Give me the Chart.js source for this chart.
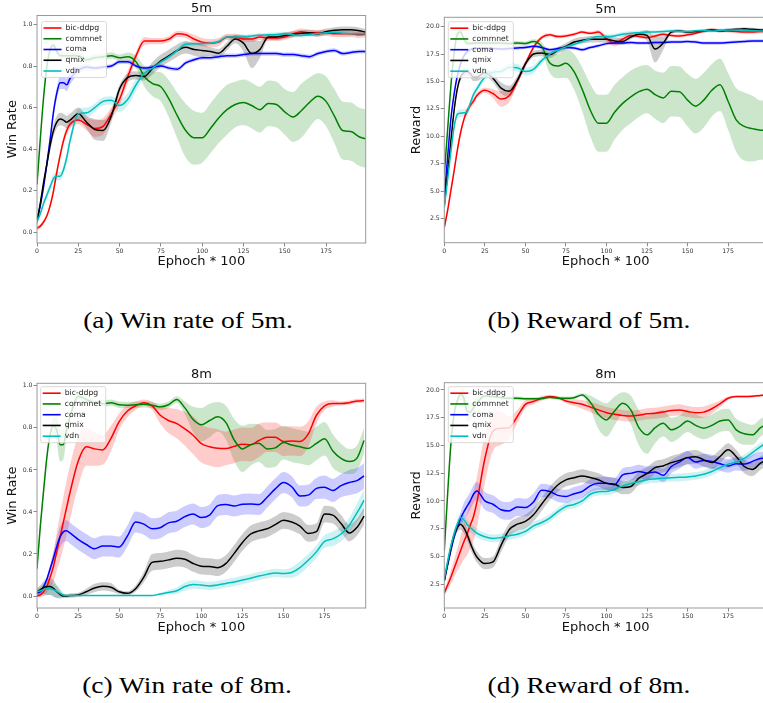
<!DOCTYPE html>
<html><head><meta charset="utf-8">
<script src="https://cdn.jsdelivr.net/npm/chart.js@4.4.1/dist/chart.umd.min.js"></script>
<style>
html,body{margin:0;padding:0;width:763px;height:703px;overflow:hidden;background:#fff;}
.panel{position:absolute;}
.cap{position:absolute;font-family:"Liberation Serif","DejaVu Serif",serif;font-size:22.5px;color:#000;white-space:nowrap;transform:translate(-50%,-50%) scaleX(1.22);}
</style></head><body>
<div class="panel" style="left:0;top:0;"><canvas id="cA" width="380" height="275"></canvas></div>
<div class="panel" style="left:385px;top:0;"><canvas id="cB" width="385" height="275"></canvas></div>
<div class="panel" style="left:0;top:360px;"><canvas id="cC" width="380" height="280"></canvas></div>
<div class="panel" style="left:385px;top:360px;"><canvas id="cD" width="385" height="280"></canvas></div>
<div class="cap" style="left:188px;top:321px;">(a) Win rate of 5m.</div>
<div class="cap" style="left:589px;top:321px;">(b) Reward of 5m.</div>
<div class="cap" style="left:187px;top:686px;">(c) Win rate of 8m.</div>
<div class="cap" style="left:589px;top:686px;">(d) Reward of 8m.</div>
<script>
// ---------- shared categories / ticks ----------
const epochs = [0,2,4,6,8,10,12,14,16,18,20, 25,30,35,40,45,50,55,60,65,70, 75,80,85,90,95,100,105,110,115,120, 125,130,135,140,145,150,155,160,165,170, 175,180,185,190,195,199];
const xTicks = [0,25,50,75,100,125,150,175];
const winTicks = [0.0,0.2,0.4,0.6,0.8,1.0];
const rewardTicks = [2.5,5.0,7.5,10.0,12.5,15.0,17.5,20.0];
const methods = ['bic-ddpg','commnet','coma','qmix','vdn'];
const lineColors = ['#ff0000','#008000','#0000ff','#000000','#00bfbf'];
const bandColors = ['rgba(255,0,0,0.2)','rgba(0,128,0,0.2)','rgba(0,0,255,0.2)','rgba(0,0,0,0.2)','rgba(0,191,191,0.2)'];

// ---------- (a) win rate 5m ----------
const win5m_bic = [0.02,0.03,0.05,0.08,0.13,0.2,0.29,0.37,0.44,0.49,0.52, 0.54,0.52,0.5,0.51,0.57,0.64,0.75,0.85,0.92,0.92, 0.92,0.93,0.955,0.95,0.93,0.915,0.91,0.915,0.94,0.94, 0.93,0.93,0.94,0.935,0.935,0.94,0.955,0.965,0.96,0.96, 0.96,0.955,0.955,0.955,0.95,0.952];
const win5m_bic_sd = [0.01,0.01,0.01,0.01,0.015,0.02,0.02,0.02,0.02,0.02,0.02, 0.02,0.03,0.04,0.04,0.03,0.03,0.03,0.02,0.02,0.015, 0.015,0.015,0.015,0.015,0.02,0.02,0.02,0.02,0.015,0.015, 0.015,0.015,0.015,0.015,0.015,0.015,0.015,0.015,0.015,0.015, 0.015,0.015,0.015,0.015,0.015,0.015];
const win5m_comm = [0.23,0.45,0.65,0.8,0.88,0.9,0.87,0.85,0.85,0.85,0.85, 0.85,0.83,0.84,0.845,0.85,0.84,0.845,0.82,0.75,0.715, 0.7,0.64,0.56,0.49,0.455,0.455,0.5,0.55,0.59,0.615, 0.625,0.61,0.59,0.62,0.615,0.58,0.555,0.585,0.625,0.655, 0.63,0.56,0.49,0.485,0.46,0.45];
const win5m_comm_sd = [0.015,0.015,0.015,0.015,0.015,0.015,0.015,0.015,0.015,0.015,0.015, 0.015,0.015,0.015,0.015,0.015,0.015,0.02,0.03,0.05,0.06, 0.07,0.09,0.11,0.13,0.13,0.12,0.12,0.12,0.12,0.11, 0.11,0.11,0.11,0.11,0.11,0.11,0.12,0.13,0.12,0.11, 0.12,0.13,0.14,0.14,0.14,0.14];
const win5m_coma = [0.06,0.13,0.22,0.33,0.45,0.58,0.67,0.72,0.72,0.71,0.74, 0.78,0.795,0.79,0.795,0.8,0.82,0.82,0.8,0.79,0.795, 0.8,0.79,0.785,0.815,0.83,0.84,0.84,0.845,0.85,0.85, 0.855,0.86,0.86,0.86,0.86,0.855,0.855,0.85,0.845,0.86, 0.87,0.875,0.86,0.865,0.87,0.87];
const win5m_coma_sd = [0.02,0.02,0.02,0.03,0.03,0.03,0.03,0.03,0.03,0.03,0.03, 0.02,0.015,0.01,0.01,0.01,0.01,0.01,0.01,0.01,0.01, 0.01,0.01,0.01,0.01,0.01,0.01,0.01,0.01,0.01,0.01, 0.01,0.01,0.01,0.01,0.01,0.01,0.01,0.01,0.01,0.01, 0.01,0.01,0.01,0.01,0.01,0.01];
const win5m_qmix = [0.05,0.14,0.24,0.33,0.42,0.49,0.53,0.545,0.54,0.53,0.54, 0.57,0.53,0.495,0.49,0.56,0.69,0.745,0.755,0.75,0.79, 0.825,0.85,0.875,0.89,0.88,0.875,0.87,0.862,0.895,0.93, 0.91,0.86,0.88,0.94,0.94,0.947,0.952,0.958,0.96,0.955, 0.965,0.972,0.975,0.975,0.97,0.963];
const win5m_qmix_sd = [0.02,0.02,0.02,0.02,0.03,0.03,0.03,0.03,0.03,0.03,0.03, 0.03,0.03,0.05,0.05,0.03,0.02,0.02,0.02,0.02,0.03, 0.03,0.03,0.03,0.03,0.03,0.03,0.02,0.02,0.02,0.02, 0.04,0.07,0.04,0.015,0.015,0.015,0.015,0.015,0.015,0.015, 0.015,0.015,0.015,0.015,0.015,0.015];
const win5m_vdn = [0.05,0.09,0.14,0.18,0.22,0.26,0.27,0.27,0.3,0.36,0.44, 0.57,0.575,0.6,0.63,0.635,0.61,0.64,0.71,0.765,0.79, 0.82,0.845,0.875,0.905,0.907,0.908,0.91,0.918,0.94,0.94, 0.94,0.945,0.948,0.95,0.952,0.955,0.95,0.947,0.952,0.957, 0.96,0.963,0.958,0.955,0.955,0.955];
const win5m_vdn_sd = [0.01,0.01,0.015,0.02,0.02,0.02,0.02,0.02,0.02,0.025,0.025, 0.025,0.025,0.02,0.02,0.02,0.03,0.03,0.03,0.02,0.015, 0.01,0.01,0.01,0.01,0.01,0.01,0.01,0.01,0.01,0.01, 0.01,0.01,0.01,0.01,0.01,0.01,0.01,0.01,0.01,0.01, 0.01,0.01,0.01,0.01,0.01,0.01];

// ---------- (b) reward 5m ----------
const rew5m_bic = [1.7,3.2,5.0,6.8,8.7,10.3,11.5,12.3,12.8,13.2,13.7, 14.2,13.9,13.4,13.7,15.0,16.6,18.1,19.0,19.25,19.1, 19.15,19.3,19.5,19.4,19.5,18.9,18.5,18.85,19.2,19.1, 19.0,19.15,19.3,19.2,19.15,19.25,19.4,19.6,19.7,19.65, 19.6,19.55,19.5,19.5,19.55,19.55];
const rew5m_bic_sd = [0.3,0.3,0.3,0.3,0.3,0.3,0.3,0.3,0.3,0.3,0.25, 0.25,0.4,0.7,0.6,0.3,0.25,0.2,0.2,0.15,0.15, 0.15,0.15,0.15,0.15,0.2,0.3,0.3,0.3,0.2,0.15, 0.15,0.15,0.15,0.15,0.15,0.15,0.15,0.15,0.15,0.15, 0.15,0.15,0.15,0.15,0.15,0.15];
const rew5m_comm = [6.5,10.5,14.5,17.5,19.3,19.5,18.9,18.5,18.45,18.5,18.5, 18.5,18.5,18.5,18.45,18.5,18.45,18.65,18.2,16.7,16.4, 16.65,15.9,14.3,12.4,11.2,11.2,12.2,13.0,13.6,14.07, 14.3,13.8,13.5,14.1,14.07,13.3,12.75,13.3,14.2,14.7, 13.2,11.5,10.9,10.7,10.56,10.55];
const rew5m_comm_sd = [0.3,0.3,0.3,0.3,0.3,0.3,0.3,0.25,0.2,0.2,0.2, 0.2,0.2,0.2,0.2,0.2,0.2,0.2,0.4,0.9,1.1, 1.3,1.6,2.0,2.4,2.6,2.6,2.5,2.4,2.4,2.3, 2.2,2.2,2.3,2.3,2.3,2.4,2.5,2.5,2.4,2.4, 2.6,2.9,3.1,3.0,2.7,2.7];
const rew5m_coma = [4.5,8.0,11.5,13.8,15.5,16.6,17.3,17.7,17.9,18.0,18.0, 18.0,18.0,17.95,18.0,18.05,18.1,18.2,18.1,17.9,18.0, 18.1,18.05,17.9,18.1,18.25,18.45,18.5,18.5,18.55,18.5, 18.5,18.55,18.55,18.6,18.6,18.65,18.6,18.5,18.5,18.5, 18.55,18.6,18.65,18.7,18.7,18.7];
const rew5m_coma_sd = [0.3,0.3,0.3,0.3,0.3,0.25,0.2,0.2,0.15,0.15,0.15, 0.15,0.15,0.15,0.15,0.15,0.15,0.15,0.15,0.15,0.15, 0.15,0.15,0.15,0.15,0.15,0.15,0.15,0.15,0.15,0.15, 0.15,0.15,0.15,0.15,0.15,0.15,0.15,0.15,0.15,0.15, 0.15,0.15,0.15,0.15,0.15,0.15];
const rew5m_qmix = [3.7,6.6,9.5,12.3,14.3,15.4,15.8,15.9,15.7,15.4,15.4, 15.8,15.3,14.4,14.1,15.1,16.6,17.5,17.6,17.45,17.85, 18.2,18.6,18.75,18.85,18.85,18.85,18.7,18.65,19.05,19.3, 19.2,17.95,18.5,19.5,19.6,19.5,19.55,19.6,19.7,19.6, 19.7,19.75,19.8,19.75,19.7,19.7];
const rew5m_qmix_sd = [0.3,0.3,0.3,0.3,0.3,0.35,0.35,0.35,0.35,0.35,0.35, 0.35,0.35,0.5,0.5,0.4,0.3,0.3,0.3,0.3,0.3, 0.3,0.3,0.3,0.3,0.3,0.3,0.3,0.3,0.2,0.2, 0.5,1.2,0.6,0.15,0.15,0.15,0.15,0.15,0.15,0.15, 0.15,0.15,0.15,0.15,0.15,0.15];
const rew5m_vdn = [3.5,6.0,8.5,10.8,12.0,12.1,12.15,12.2,13.0,13.8,14.3, 15.4,15.85,15.9,16.3,16.25,15.9,16.1,16.9,17.5,17.85, 18.15,18.4,18.65,18.9,19.1,19.1,19.15,19.3,19.4,19.45, 19.5,19.52,19.55,19.6,19.57,19.55,19.62,19.63,19.6,19.65, 19.7,19.7,19.67,19.64,19.6,19.6];
const rew5m_vdn_sd = [0.2,0.2,0.25,0.3,0.35,0.35,0.35,0.35,0.3,0.3,0.3, 0.3,0.3,0.3,0.35,0.35,0.35,0.35,0.3,0.25,0.2, 0.2,0.2,0.2,0.2,0.2,0.2,0.2,0.2,0.2,0.2, 0.15,0.15,0.15,0.15,0.15,0.15,0.15,0.15,0.15,0.15, 0.15,0.15,0.15,0.15,0.15,0.15];

// ---------- (c) win rate 8m ----------
const win8m_bic = [0.0,0.005,0.02,0.045,0.09,0.14,0.21,0.28,0.35,0.42,0.49, 0.64,0.71,0.70,0.695,0.75,0.83,0.88,0.905,0.92,0.905, 0.86,0.835,0.82,0.795,0.765,0.725,0.71,0.703,0.702,0.712, 0.722,0.72,0.74,0.755,0.755,0.735,0.738,0.735,0.77,0.86, 0.905,0.916,0.916,0.92,0.928,0.93];
const win8m_bic_sd = [0.005,0.01,0.02,0.03,0.05,0.07,0.09,0.11,0.12,0.13,0.13, 0.12,0.09,0.08,0.07,0.06,0.04,0.03,0.02,0.015,0.02, 0.04,0.06,0.07,0.08,0.09,0.09,0.09,0.09,0.08,0.08, 0.08,0.08,0.08,0.07,0.07,0.07,0.07,0.07,0.06,0.04, 0.02,0.015,0.01,0.01,0.01,0.01];
const win8m_comm = [0.13,0.33,0.5,0.66,0.77,0.81,0.79,0.72,0.72,0.79,0.85, 0.95,0.935,0.92,0.915,0.92,0.91,0.908,0.91,0.912,0.908, 0.9,0.91,0.935,0.895,0.84,0.815,0.835,0.853,0.825,0.742, 0.7,0.72,0.727,0.7,0.705,0.73,0.718,0.71,0.702,0.726, 0.748,0.69,0.655,0.64,0.66,0.74];
const win8m_comm_sd = [0.02,0.02,0.02,0.02,0.02,0.04,0.06,0.08,0.07,0.04,0.03, 0.015,0.015,0.015,0.015,0.015,0.015,0.015,0.015,0.015,0.015, 0.015,0.015,0.015,0.03,0.06,0.08,0.08,0.07,0.08,0.1, 0.11,0.1,0.09,0.09,0.09,0.08,0.08,0.08,0.08,0.08, 0.08,0.08,0.07,0.06,0.06,0.06];
const win8m_coma = [0.015,0.02,0.045,0.08,0.13,0.18,0.235,0.28,0.305,0.31,0.3, 0.27,0.245,0.225,0.238,0.238,0.233,0.285,0.352,0.342,0.32, 0.325,0.348,0.356,0.378,0.39,0.373,0.385,0.43,0.435,0.428, 0.437,0.438,0.435,0.47,0.51,0.54,0.52,0.476,0.48,0.512, 0.518,0.502,0.525,0.54,0.55,0.572];
const win8m_coma_sd = [0.01,0.01,0.01,0.01,0.02,0.03,0.04,0.05,0.05,0.05,0.05, 0.05,0.05,0.05,0.05,0.05,0.05,0.05,0.05,0.05,0.05, 0.05,0.05,0.05,0.05,0.05,0.05,0.05,0.05,0.05,0.05, 0.05,0.05,0.05,0.05,0.05,0.05,0.05,0.05,0.05,0.05, 0.055,0.055,0.055,0.06,0.06,0.06];
const win8m_qmix = [0.02,0.03,0.04,0.045,0.045,0.037,0.02,0.008,0.0,0.0,0.002, 0.005,0.02,0.038,0.046,0.042,0.02,0.013,0.035,0.09,0.16, 0.165,0.172,0.18,0.175,0.155,0.142,0.14,0.135,0.155,0.203, 0.255,0.295,0.31,0.32,0.34,0.36,0.352,0.333,0.298,0.306, 0.39,0.385,0.345,0.3,0.33,0.38];
const win8m_qmix_sd = [0.02,0.02,0.03,0.04,0.04,0.04,0.03,0.02,0.01,0.01,0.01, 0.01,0.015,0.02,0.02,0.02,0.01,0.01,0.015,0.025,0.04, 0.04,0.04,0.04,0.04,0.04,0.04,0.04,0.04,0.04,0.04, 0.04,0.04,0.04,0.04,0.04,0.04,0.04,0.04,0.04,0.04, 0.04,0.04,0.04,0.04,0.04,0.04];
const win8m_vdn = [0.02,0.025,0.03,0.035,0.035,0.03,0.022,0.013,0.005,0.002,0.002, 0.002,0.002,0.002,0.002,0.002,0.002,0.002,0.002,0.002,0.002, 0.01,0.017,0.025,0.045,0.055,0.052,0.048,0.052,0.06,0.067, 0.076,0.085,0.095,0.103,0.11,0.107,0.112,0.135,0.17,0.21, 0.26,0.272,0.295,0.337,0.4,0.455];
const win8m_vdn_sd = [0.01,0.02,0.03,0.03,0.03,0.03,0.03,0.02,0.01,0.005,0.003, 0.003,0.003,0.003,0.003,0.003,0.003,0.003,0.003,0.003,0.003, 0.005,0.01,0.015,0.02,0.02,0.02,0.02,0.02,0.02,0.02, 0.02,0.02,0.02,0.02,0.02,0.02,0.025,0.03,0.03,0.03, 0.03,0.035,0.035,0.035,0.045,0.05];

// ---------- (d) reward 8m ----------
const rew8m_bic = [1.7,2.4,3.1,3.9,4.7,5.5,6.3,7.0,7.8,8.6,9.8, 13.8,16.3,16.55,16.6,17.6,18.7,18.95,19.25,19.4,19.3, 19.0,18.85,18.7,18.45,18.2,17.95,17.8,17.7,17.65,17.72, 17.85,17.9,18.0,18.15,18.2,18.05,17.95,18.0,18.3,18.75, 19.25,19.4,19.4,19.42,19.5,19.55];
const rew8m_bic_sd = [0.3,0.4,0.6,0.8,1.0,1.3,1.6,1.9,2.1,2.2,2.3, 2.2,1.8,1.5,1.0,0.6,0.35,0.25,0.2,0.15,0.15, 0.2,0.3,0.4,0.45,0.5,0.5,0.5,0.5,0.5,0.5, 0.5,0.5,0.5,0.5,0.5,0.5,0.5,0.5,0.45,0.3, 0.15,0.1,0.1,0.1,0.1,0.1];
const rew8m_comm = [5.5,10.5,15.0,17.8,19.0,19.6,19.3,18.1,18.0,18.4,18.8, 19.45,19.4,19.3,19.25,19.25,19.2,19.2,19.22,19.33,19.25, 19.25,19.3,19.55,18.9,17.8,17.3,18.1,18.8,18.2,16.6, 15.95,16.6,17.0,16.4,16.7,17.2,16.8,16.55,16.8,17.2, 17.3,16.4,16.05,15.95,16.6,16.9];
const rew8m_comm_sd = [0.2,0.2,0.2,0.2,0.2,0.5,0.8,0.9,0.8,0.6,0.4, 0.15,0.15,0.15,0.15,0.15,0.15,0.15,0.15,0.15,0.15, 0.15,0.15,0.15,0.6,1.3,1.5,1.3,1.0,1.3,1.6, 1.7,1.4,1.2,1.1,1.0,1.0,1.0,1.0,1.0,1.0, 1.0,1.0,1.0,0.9,0.8,0.8];
const rew8m_coma = [2.8,4.2,5.5,6.7,7.6,8.4,9.0,9.5,10.0,10.6,10.9, 10.0,9.7,9.2,9.1,9.45,9.4,9.9,10.95,10.85,10.5, 10.4,10.65,10.85,11.35,11.58,11.58,11.45,12.35,12.48,12.65, 12.5,12.6,12.3,13.1,13.5,13.9,13.5,13.65,13.55,13.35, 13.15,13.35,13.32,13.55,13.83,13.85];
const rew8m_coma_sd = [0.2,0.3,0.3,0.3,0.3,0.5,0.8,0.8,0.8,0.8,0.8, 0.8,0.8,0.8,0.8,0.8,0.8,0.8,0.6,0.6,0.6, 0.6,0.6,0.6,0.6,0.6,0.6,0.6,0.6,0.6,0.6, 0.6,0.6,0.6,0.6,0.6,0.6,0.6,0.6,0.6,0.6, 0.6,0.6,0.6,0.6,0.6,0.6];
const rew8m_qmix = [2.8,4.3,5.7,6.9,7.6,7.9,7.6,7.0,6.2,5.5,4.97, 4.35,4.5,6.0,7.4,7.9,8.15,8.75,9.7,10.65,11.43, 11.9,12.08,12.25,12.1,11.9,11.58,11.5,11.2,11.3,12.05, 12.45,13.0,13.15,13.45,13.65,13.9,13.98,13.7,13.45,14.0, 14.6,14.0,13.1,12.84,13.4,13.75];
const rew8m_qmix_sd = [0.2,0.4,0.4,0.4,0.4,0.5,0.5,0.5,0.5,0.5,0.5, 0.5,0.5,0.6,0.6,0.6,0.6,0.6,0.6,0.6,0.6, 0.6,0.6,0.6,0.6,0.6,0.6,0.6,0.6,0.6,0.6, 0.6,0.6,0.6,0.6,0.6,0.6,0.6,0.6,0.6,0.6, 0.6,0.6,0.6,0.6,0.6,0.6];
const rew8m_vdn = [3.0,4.5,5.9,7.0,7.9,8.5,8.3,7.9,7.6,7.35,7.1, 6.77,6.62,6.7,6.85,7.0,7.25,7.75,8.05,8.45,9.03, 9.5,9.68,10.0,10.6,10.83,10.85,11.05,11.35,11.56,11.74, 11.9,11.98,12.04,12.09,12.12,12.16,12.25,12.4,12.65,13.0, 13.3,13.5,13.83,14.35,14.9,15.2];
const rew8m_vdn_sd = [0.2,0.4,0.4,0.4,0.4,0.4,0.4,0.4,0.4,0.4,0.4, 0.35,0.35,0.35,0.35,0.35,0.35,0.35,0.35,0.35,0.35, 0.35,0.35,0.35,0.35,0.35,0.35,0.35,0.35,0.35,0.35, 0.35,0.35,0.35,0.35,0.35,0.35,0.35,0.35,0.35,0.35, 0.35,0.35,0.35,0.35,0.35,0.35];

// ---------- rendering ----------
const FONT = '"DejaVu Sans", sans-serif';

const frameLegend = {
  id: 'frameLegend',
  afterDatasetsDraw(chart, args, opts) {
    const ctx = chart.ctx, a = chart.chartArea;
    ctx.save();
    ctx.strokeStyle = '#999999'; ctx.lineWidth = 1;
    ctx.strokeRect(a.left, a.top, a.right - a.left, a.bottom - a.top);
    const bx = a.left + opts.dx, by = a.top + opts.dy, bw = 65, bh = 56;
    ctx.beginPath();
    if (ctx.roundRect) ctx.roundRect(bx, by, bw, bh, 2); else ctx.rect(bx, by, bw, bh);
    ctx.fillStyle = 'rgba(255,255,255,0.8)'; ctx.fill();
    ctx.strokeStyle = '#d0d0d0'; ctx.lineWidth = 0.8; ctx.stroke();
    ctx.font = '7.7px ' + FONT; ctx.textBaseline = 'middle'; ctx.textAlign = 'left';
    methods.forEach((m, i) => {
      const y = by + 6.5 + i * 10.75;
      ctx.strokeStyle = lineColors[i]; ctx.lineWidth = 1.6;
      ctx.beginPath(); ctx.moveTo(bx + 2, y); ctx.lineTo(bx + 20, y); ctx.stroke();
      ctx.fillStyle = '#262626'; ctx.fillText(m, bx + 24, y);
    });
    ctx.restore();
  }
};

function pts(vals) { return epochs.map((e, i) => ({x: e, y: vals[i]})); }

function makeChart(id, g) {
  const datasets = [];
  g.means.forEach((m, k) => {
    const sd = g.sds[k];
    datasets.push({data: pts(m.map((v, i) => v + sd[i])), fill: '+1', backgroundColor: bandColors[k], borderWidth: 0, pointRadius: 0, order: 20, cubicInterpolationMode: 'monotone'});
    datasets.push({data: pts(m.map((v, i) => v - sd[i])), fill: false, borderWidth: 0, pointRadius: 0, order: 20, cubicInterpolationMode: 'monotone'});
  });
  g.means.forEach((m, k) => {
    datasets.push({label: methods[k], data: pts(m), borderColor: lineColors[k], borderWidth: 1.5, pointRadius: 0, fill: false, order: 5 - k, cubicInterpolationMode: 'monotone'});
  });
  const tickFont = {family: FONT, size: 6.2};
  new Chart(document.getElementById(id), {
    type: 'line',
    data: {datasets},
    options: {
      responsive: false, animation: false, devicePixelRatio: 1,
      layout: {padding: {left: 0, right: g.padR, top: 0, bottom: 0}},
      plugins: {
        legend: {display: false}, tooltip: {enabled: false},
        title: {display: true, text: g.title, fullSize: false, color: '#111', font: {family: FONT, size: 13, weight: 'normal', lineHeight: 1}, padding: {top: g.tPadTop, bottom: g.tPadBot}},
        frameLegend: {dx: g.legDx, dy: g.legDy}
      },
      scales: {
        x: {
          type: 'linear', min: 0, max: g.xMax,
          afterBuildTicks: s => { s.ticks = xTicks.map(v => ({value: v})); },
          afterFit: s => { s.height = g.xH; },
          grid: {display: true, drawOnChartArea: false, drawTicks: true, tickLength: 3.5, color: '#888'},
          border: {display: false},
          ticks: {font: tickFont, color: '#333', padding: 1, maxRotation: 0, callback: v => String(v)},
          title: {display: true, text: 'Ephoch * 100', color: '#111', font: {family: FONT, size: 13, lineHeight: 1}, padding: {top: 0, bottom: g.xtPad}}
        },
        y: {
          type: 'linear', min: g.yMin, max: g.yMax,
          afterBuildTicks: s => { s.ticks = g.yTicks.map(v => ({value: v})); },
          afterFit: s => { s.width = g.yW; },
          grid: {display: true, drawOnChartArea: false, drawTicks: true, tickLength: 3.5, color: '#888'},
          border: {display: false},
          ticks: {font: tickFont, color: '#333', padding: 1, callback: v => v.toFixed(1)},
          title: {display: true, text: g.yTitle, color: '#111', font: {family: FONT, size: 13, lineHeight: 1}, padding: {top: g.ytPad, bottom: 0}}
        }
      }
    },
    plugins: [frameLegend]
  });
}

makeChart('cA', {means: [win5m_bic, win5m_comm, win5m_coma, win5m_qmix, win5m_vdn], sds: [win5m_bic_sd, win5m_comm_sd, win5m_coma_sd, win5m_qmix_sd, win5m_vdn_sd],
  title: '5m', yTitle: 'Win Rate', yMin: -0.051, yMax: 1.043, yTicks: winTicks, xMax: 199,
  padR: 14.3, yW: 37, xH: 32, tPadTop: 2.5, tPadBot: 0, xtPad: 6.5, ytPad: 6.2, legDx: 4.5, legDy: 6});
makeChart('cB', {means: [rew5m_bic, rew5m_comm, rew5m_coma, rew5m_qmix, rew5m_vdn], sds: [rew5m_bic_sd, rew5m_comm_sd, rew5m_coma_sd, rew5m_qmix_sd, rew5m_vdn_sd],
  title: '5m', yTitle: 'Reward', yMin: 0.3, yMax: 20.85, yTicks: rewardTicks, xMax: 199,
  padR: 3, yW: 59.3, xH: 32.3, tPadTop: 3, tPadBot: 1.3, xtPad: 6.5, ytPad: 25.2, legDx: 4, legDy: 4.4});
makeChart('cC', {means: [win8m_bic, win8m_comm, win8m_coma, win8m_qmix, win8m_vdn], sds: [win8m_bic_sd, win8m_comm_sd, win8m_coma_sd, win8m_qmix_sd, win8m_vdn_sd],
  title: '8m', yTitle: 'Win Rate', yMin: -0.057, yMax: 1.012, yTicks: winTicks, xMax: 200,
  padR: 14.3, yW: 37, xH: 32, tPadTop: 8.5, tPadBot: 1.8, xtPad: 5.5, ytPad: 6.2, legDx: 3.7, legDy: 3.4});
makeChart('cD', {means: [rew8m_bic, rew8m_comm, rew8m_coma, rew8m_qmix, rew8m_vdn], sds: [rew8m_bic_sd, rew8m_comm_sd, rew8m_coma_sd, rew8m_qmix_sd, rew8m_vdn_sd],
  title: '8m', yTitle: 'Reward', yMin: 0.35, yMax: 20.65, yTicks: rewardTicks, xMax: 199,
  padR: 3, yW: 59.3, xH: 32, tPadTop: 8.2, tPadBot: 1.5, xtPad: 5.5, ytPad: 25.2, legDx: 4, legDy: 4});
</script>
</body></html>
